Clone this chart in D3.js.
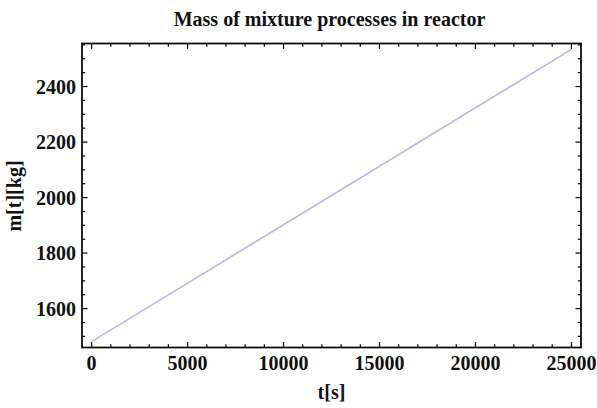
<!DOCTYPE html>
<html>
<head>
<meta charset="utf-8">
<script src="https://cdn.jsdelivr.net/npm/d3@7"></script>
<style>
  html, body { margin: 0; padding: 0; background: #fff; }
  svg { display: block; }
  text { font-family: "Liberation Serif", "DejaVu Serif", serif; font-weight: bold; fill: #111; }
</style>
</head>
<body>
<svg id="chart" width="597" height="408"></svg>
<script>
// Mass of the reactor mixture over time (linear growth)
const timeSeconds = [0, 25000];
const massKg = [1481, 2534];

const xMajorTicks = [0, 5000, 10000, 15000, 20000, 25000];
const yMajorTicks = [1600, 1800, 2000, 2200, 2400];
const xMinorStep = 1000;
const yMinorStep = 50;

const titleText = "Mass of mixture processes in reactor";
const xTitle = "t[s]";
const yTitle = "m[t][kg]";

const svg = d3.select("#chart");
const frame = { left: 82, right: 581, top: 43.5, bottom: 347.5 };

// 2% padding around the data range on both axes
const xPad = (timeSeconds[1] - timeSeconds[0]) * 0.02;
const yPad = (massKg[1] - massKg[0]) * 0.02;
const x = d3.scaleLinear()
  .domain([timeSeconds[0] - xPad, timeSeconds[1] + xPad])
  .range([frame.left, frame.right]);
const y = d3.scaleLinear()
  .domain([massKg[0] - yPad, massKg[1] + yPad])
  .range([frame.bottom, frame.top]);

const xMinor = d3.range(Math.ceil(x.domain()[0] / xMinorStep) * xMinorStep, x.domain()[1], xMinorStep)
  .filter(v => !xMajorTicks.includes(v));
const yMinor = d3.range(Math.ceil(y.domain()[0] / yMinorStep) * yMinorStep, y.domain()[1], yMinorStep)
  .filter(v => !yMajorTicks.includes(v));

const majorLen = 5.5, minorLen = 3.2;
const tickG = svg.append("g").attr("stroke", "#000").attr("stroke-width", 1.2);

// ticks on all four sides, pointing inward
function hTicks(values, len) {
  values.forEach(v => {
    tickG.append("line").attr("x1", x(v)).attr("x2", x(v))
      .attr("y1", frame.bottom).attr("y2", frame.bottom - len);
    tickG.append("line").attr("x1", x(v)).attr("x2", x(v))
      .attr("y1", frame.top).attr("y2", frame.top + len);
  });
}
function vTicks(values, len) {
  values.forEach(v => {
    tickG.append("line").attr("y1", y(v)).attr("y2", y(v))
      .attr("x1", frame.left).attr("x2", frame.left + len);
    tickG.append("line").attr("y1", y(v)).attr("y2", y(v))
      .attr("x1", frame.right).attr("x2", frame.right - len);
  });
}
hTicks(xMajorTicks, majorLen);
hTicks(xMinor, minorLen);
vTicks(yMajorTicks, majorLen);
vTicks(yMinor, minorLen);

// data line
const line = d3.line().x((d, i) => x(timeSeconds[i])).y(d => y(d));
svg.append("path")
  .datum(massKg)
  .attr("d", line)
  .attr("fill", "none")
  .attr("stroke", "#b9b9e3")
  .attr("stroke-width", 1.6);

// frame
svg.append("rect")
  .attr("x", frame.left).attr("y", frame.top)
  .attr("width", frame.right - frame.left).attr("height", frame.bottom - frame.top)
  .attr("fill", "none").attr("stroke", "#000").attr("stroke-width", 1.7);

// tick labels
svg.append("g").selectAll("text").data(xMajorTicks).join("text")
  .attr("x", d => x(d)).attr("y", 370)
  .attr("text-anchor", "middle").attr("font-size", 20)
  .text(d => d);
svg.append("g").selectAll("text").data(yMajorTicks).join("text")
  .attr("x", 76).attr("y", d => y(d) + 7)
  .attr("text-anchor", "end").attr("font-size", 20)
  .text(d => d);

// titles
svg.append("text")
  .attr("x", (frame.left + frame.right) / 2 - 2).attr("y", 26)
  .attr("text-anchor", "middle").attr("font-size", 20)
  .text(titleText);
svg.append("text")
  .attr("x", (frame.left + frame.right) / 2).attr("y", 399)
  .attr("text-anchor", "middle").attr("font-size", 20)
  .text(xTitle);
svg.append("text")
  .attr("transform", "translate(21,196) rotate(-90)")
  .attr("text-anchor", "middle").attr("font-size", 20)
  .text(yTitle);
</script>
</body>
</html>
